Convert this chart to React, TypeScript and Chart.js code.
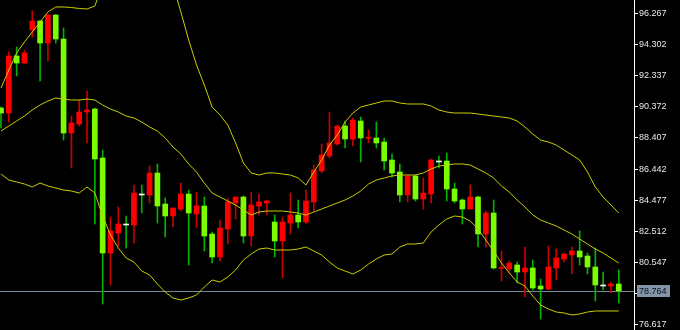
import React, { useEffect, useRef } from "react";
import { Chart, registerables } from "chart.js";

Chart.register(...registerables);

// Candles (oldest -> newest)
const OPEN = [
  90.296, 89.981, 93.575, 93.134, 95.214, 95.782, 94.395, 96.160, 94.647, 88.720,
  89.288, 90.044, 90.233, 87.144, 81.154, 82.415, 82.982, 82.919, 84.874, 84.811,
  86.198, 84.243, 83.487, 83.928, 84.874, 83.613, 84.117, 82.352, 80.902, 82.667,
  84.306, 84.685, 82.226, 84.117, 84.306, 83.109, 81.911, 83.046, 83.550, 83.109,
  84.370, 86.324, 87.270, 88.027, 89.161, 88.342, 89.477, 88.390, 88.405, 88.153,
  87.018, 86.261, 84.811, 86.009, 84.559, 84.874, 86.955, 86.955, 85.189, 84.496,
  83.928, 84.685, 82.352, 83.676, 80.190, 80.145, 80.397, 79.956, 80.208, 79.073,
  78.884, 80.208, 80.776, 81.028, 81.280, 80.965, 80.271, 79.136, 79.073, 79.199,
];
const HIGH = [
  90.359, 93.827, 94.143, 93.953, 96.412, 95.810, 96.190, 96.190, 95.341, 89.792,
  90.801, 91.368, 90.296, 87.648, 83.424, 84.054, 83.487, 85.441, 85.441, 86.639,
  86.765, 84.622, 83.991, 85.567, 85.126, 85.000, 84.685, 82.478, 83.235, 84.622,
  84.685, 84.748, 85.000, 84.874, 84.496, 83.550, 83.424, 84.937, 84.496, 85.126,
  86.702, 88.027, 90.044, 89.224, 89.477, 89.666, 89.729, 88.909, 89.414, 88.405,
  87.396, 86.765, 86.072, 86.072, 85.883, 87.081, 87.270, 87.459, 85.567, 84.559,
  85.441, 84.748, 83.802, 84.496, 81.280, 80.649, 80.586, 81.532, 80.712, 79.514,
  81.595, 81.406, 81.154, 81.532, 82.541, 81.154, 81.469, 79.956, 79.325, 80.082,
];
const LOW = [
  89.035, 89.414, 92.314, 93.071, 94.773, 91.999, 93.260, 94.395, 88.279, 86.513,
  89.162, 88.090, 82.982, 77.938, 79.136, 81.595, 81.469, 81.784, 83.676, 84.306,
  83.045, 82.163, 82.793, 83.802, 80.397, 82.730, 81.280, 80.523, 80.649, 81.721,
  83.298, 81.784, 81.595, 83.550, 83.550, 80.902, 79.578, 82.352, 82.730, 82.982,
  83.802, 86.198, 87.144, 87.964, 87.774, 87.901, 86.892, 88.090, 87.774, 86.387,
  85.946, 84.370, 84.370, 84.433, 83.928, 84.306, 86.513, 84.433, 84.306, 82.982,
  83.928, 81.532, 81.532, 80.145, 79.388, 79.893, 79.262, 78.380, 78.821, 76.992,
  78.821, 79.451, 80.586, 79.830, 80.397, 79.830, 78.128, 78.821, 78.632, 78.002,
];
const CLOSE = [
  89.981, 93.575, 93.134, 93.764, 95.782, 94.395, 96.160, 94.647, 88.720, 89.351,
  90.044, 90.170, 87.081, 81.154, 82.541, 82.982, 82.919, 84.937, 84.811, 86.198,
  84.117, 83.487, 83.991, 84.874, 83.676, 84.117, 82.226, 80.902, 82.730, 84.370,
  84.685, 82.226, 84.180, 84.370, 84.433, 81.911, 83.109, 83.550, 83.109, 84.433,
  86.387, 87.333, 88.090, 89.161, 88.342, 89.540, 88.405, 88.405, 88.090, 86.955,
  86.198, 84.811, 86.009, 84.559, 84.937, 87.018, 86.892, 85.189, 84.433, 83.928,
  84.685, 82.352, 83.676, 80.208, 80.208, 80.523, 79.956, 80.208, 78.947, 78.884,
  80.271, 80.839, 81.091, 81.280, 80.902, 80.271, 79.136, 79.073, 79.199, 78.764,
];

// Bollinger bands
const BB_UPPER = [
  91.557, 92.692, 93.764, 94.458, 95.088, 95.719, 96.349, 96.665, 96.665, 96.633,
  96.570, 96.539, 96.728, 98.052, 98.998, 99.628, 99.943, 100.133, 100.133, 99.943,
  99.628, 98.998, 98.052, 96.349, 94.584, 93.008, 91.747, 90.359, 89.855, 89.224,
  88.090, 86.829, 86.198, 86.072, 86.198, 86.198, 86.135, 86.072, 85.883, 85.441,
  86.261, 87.018, 87.963, 88.594, 89.414, 89.981, 90.359, 90.486, 90.612, 90.738,
  90.738, 90.612, 90.549, 90.549, 90.549, 90.422, 90.170, 90.044, 89.981, 89.981,
  89.981, 89.918, 89.855, 89.792, 89.729, 89.666, 89.477, 89.098, 88.657, 88.279,
  88.153, 87.963, 87.648, 87.333, 87.018, 86.261, 85.315, 84.685, 84.180, 83.676,
];
const BB_MIDDLE = [
  88.846, 89.161, 89.477, 89.792, 90.170, 90.486, 90.738, 90.927, 90.864, 90.801,
  90.801, 90.864, 90.801, 90.486, 90.233, 90.044, 89.792, 89.666, 89.414, 89.098,
  88.846, 88.405, 87.837, 87.396, 86.765, 86.261, 85.567, 84.937, 84.685, 84.433,
  84.180, 83.865, 83.550, 83.739, 83.802, 83.802, 83.802, 83.739, 83.676, 83.550,
  83.739, 83.928, 84.117, 84.306, 84.496, 84.748, 85.063, 85.504, 85.757, 85.883,
  86.009, 86.072, 86.072, 86.072, 86.198, 86.450, 86.639, 86.702, 86.765, 86.765,
  86.702, 86.450, 86.198, 85.883, 85.378, 85.000, 84.496, 84.054, 83.550, 83.235,
  83.045, 82.856, 82.604, 82.352, 82.037, 81.721, 81.406, 81.154, 80.839, 80.523,
];
const BB_LOWER = [
  86.135, 85.757, 85.631, 85.504, 85.315, 85.567, 85.378, 85.252, 85.126, 85.063,
  84.937, 85.315, 84.937, 83.487, 82.289, 81.469, 80.839, 80.586, 80.019, 79.767,
  79.199, 78.695, 78.316, 78.190, 78.316, 78.506, 79.010, 79.451, 79.325, 79.641,
  80.082, 80.712, 81.091, 81.406, 81.469, 81.343, 81.343, 81.343, 81.406, 81.532,
  81.280, 81.028, 80.586, 80.208, 80.019, 79.830, 80.082, 80.460, 80.776, 81.028,
  81.091, 81.532, 81.721, 81.721, 81.784, 82.478, 82.919, 83.298, 83.487, 83.424,
  83.172, 82.667, 81.974, 81.280, 80.523, 79.893, 79.325, 79.073, 78.443, 77.875,
  77.623, 77.434, 77.371, 77.245, 77.308, 77.434, 77.497, 77.497, 77.497, 77.497,
];

const TICK_VALUES = [
  96.267, 94.302, 92.337, 90.372, 88.407, 86.442, 84.477, 82.512, 80.547, 78.582, 76.617,
];
const LAST_PRICE = 78.764;

const RED = "#ff0000";
const RED_WICK = "#c80000";
const GREEN = "#7cfc00";
const GREEN_WICK = "#00b400";
const WHITE = "#ffffff";
const BAND = "#cccc00";
const PRICE_LINE = "#778899";

export default function App() {
  const ref = useRef<HTMLCanvasElement>(null);

  useEffect(() => {
    document.body.style.margin = "0";
    document.body.style.background = "#000";
    const canvas = ref.current;
    if (!canvas) return;

    const idx = CLOSE.map((_, i) => i);
    const isUp = idx.map((i) => CLOSE[i] >= OPEN[i]);
    const isDoji = idx.map((i) => !isUp[i] && OPEN[i] - CLOSE[i] < 0.07);
    const bodyColors = idx.map((i) => (isUp[i] ? RED : isDoji[i] ? WHITE : GREEN));
    const wickColors = idx.map((i) => (isUp[i] ? RED_WICK : GREEN_WICK));

    const bgPlugin = {
      id: "bg",
      beforeDraw(c: any) {
        const ctx = c.ctx;
        ctx.save();
        ctx.fillStyle = "#000";
        ctx.fillRect(0, 0, c.width, c.height);
        ctx.restore();
      },
    };

    const pricePlugin = {
      id: "priceLine",
      beforeDatasetsDraw(c: any) {
        const y = Math.round(c.scales.y.getPixelForValue(LAST_PRICE)) + 0.5;
        const ctx = c.ctx;
        ctx.save();
        ctx.strokeStyle = PRICE_LINE;
        ctx.lineWidth = 1;
        ctx.beginPath();
        ctx.moveTo(0, y);
        ctx.lineTo(c.chartArea.right, y);
        ctx.stroke();
        ctx.restore();
      },
      afterDraw(c: any) {
        const y = Math.round(c.scales.y.getPixelForValue(LAST_PRICE));
        const ctx = c.ctx;
        const x0 = c.chartArea.right + 3;
        ctx.save();
        ctx.fillStyle = "#8394a8";
        ctx.fillRect(x0, y - 6, 33, 12);
        ctx.fillStyle = "#0a1020";
        ctx.font = "9px 'Liberation Sans'";
        ctx.textBaseline = "middle";
        ctx.textAlign = "left";
        ctx.fillText(LAST_PRICE.toFixed(3), x0 + 2, y + 0.5);
        ctx.restore();
      },
    };

    const pxPerBar = 7.82;
    const xMin = -1 / pxPerBar;
    const xMax = xMin + 634 / pxPerBar;

    const chart = new Chart(canvas, {
      type: "bar",
      data: {
        datasets: [
          {
            type: "line",
            data: idx.map((i) => ({ x: i, y: BB_UPPER[i] })),
            borderColor: BAND,
            borderWidth: 1,
            pointRadius: 0,
            tension: 0,
            order: 0,
          },
          {
            type: "line",
            data: idx.map((i) => ({ x: i, y: BB_MIDDLE[i] })),
            borderColor: BAND,
            borderWidth: 1,
            pointRadius: 0,
            tension: 0,
            order: 0,
          },
          {
            type: "line",
            data: idx.map((i) => ({ x: i, y: BB_LOWER[i] })),
            borderColor: BAND,
            borderWidth: 1,
            pointRadius: 0,
            tension: 0,
            order: 0,
          },
          {
            type: "bar",
            data: idx.map((i) => ({ x: i, y: [OPEN[i], CLOSE[i]] })),
            backgroundColor: bodyColors,
            borderWidth: 0,
            barThickness: 5,
            minBarLength: 1,
            grouped: false,
            order: 1,
          },
          {
            type: "bar",
            data: idx.map((i) => ({ x: i, y: [LOW[i], HIGH[i]] })),
            backgroundColor: wickColors,
            borderWidth: 0,
            barThickness: 1,
            grouped: false,
            order: 2,
          },
        ] as any,
      },
      options: {
        animation: false,
        responsive: false,
        events: [],
        layout: { padding: 0 },
        plugins: { legend: { display: false }, tooltip: { enabled: false } },
        scales: {
          x: { type: "linear", min: xMin, max: xMax, display: false, offset: false },
          y: {
            position: "right",
            min: 76.299,
            max: 97.106,
            afterFit(s: any) {
              s.width = 46;
              s.paddingTop = 0;
              s.paddingBottom = 0;
            },
            afterBuildTicks(s: any) {
              s.ticks = TICK_VALUES.map((v) => ({ value: v }));
            },
            ticks: {
              color: "#e8e8e8",
              font: { family: "'Liberation Sans'", size: 9 },
              padding: 1,
              autoSkip: false,
              callback: (v: any) => Number(v).toFixed(3),
            },
            grid: { drawOnChartArea: false, drawTicks: true, tickLength: 4, color: "#ffffff" },
            border: { display: true, color: "#ffffff", width: 1 },
          },
        },
      } as any,
      plugins: [bgPlugin, pricePlugin],
    });

    return () => chart.destroy();
  }, []);

  return (
    <canvas
      ref={ref}
      width={680}
      height={330}
      style={{ position: "fixed", left: 0, top: 0, width: 680, height: 330, background: "#000" }}
    />
  );
}
